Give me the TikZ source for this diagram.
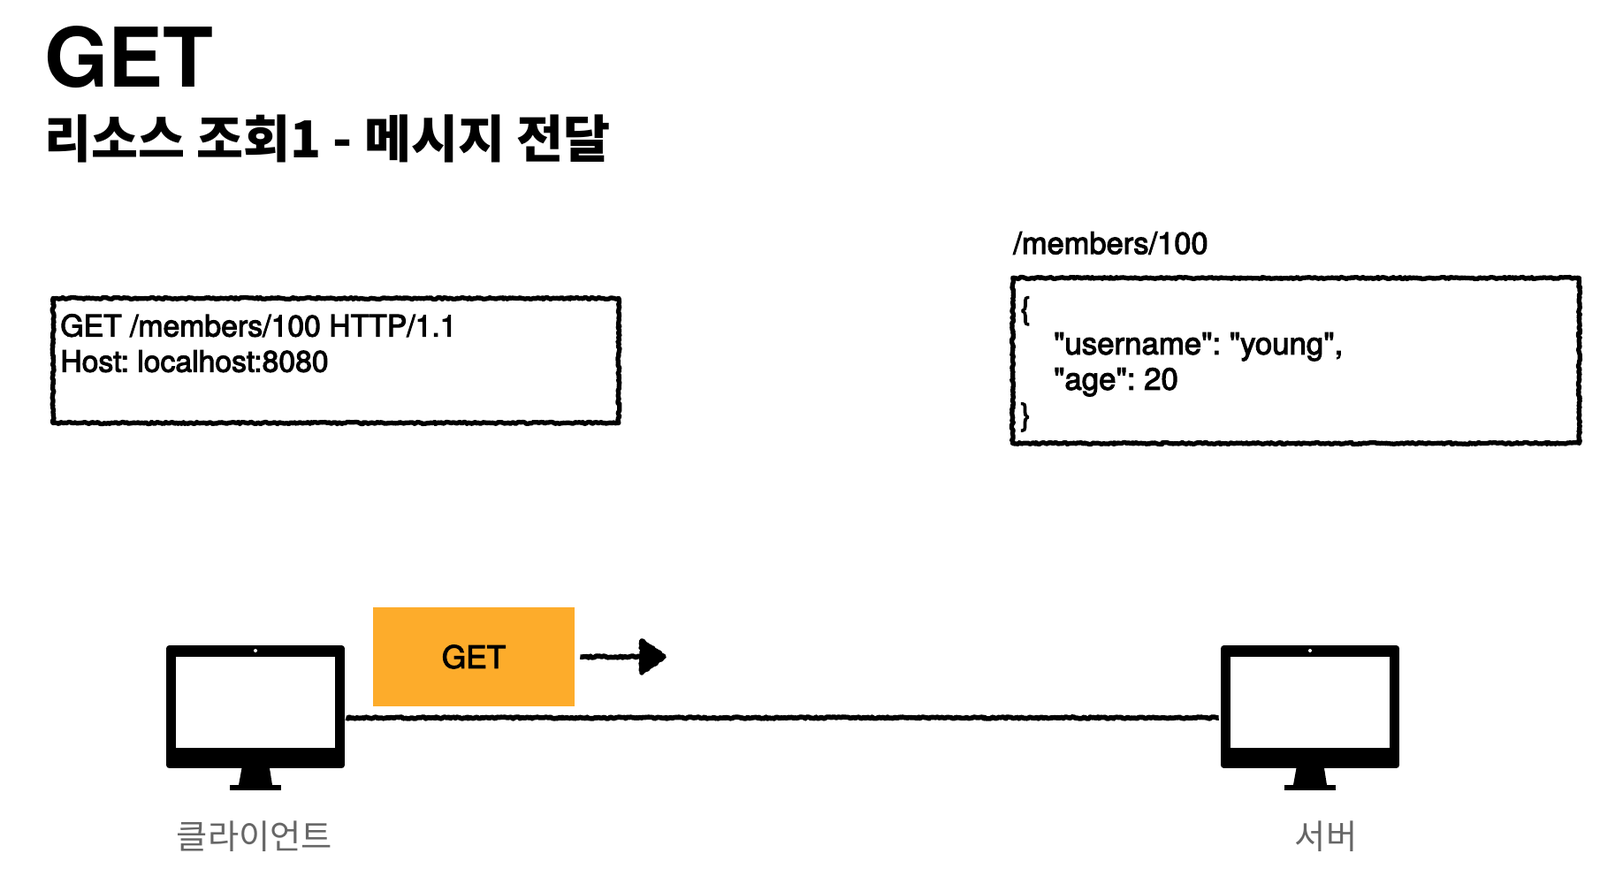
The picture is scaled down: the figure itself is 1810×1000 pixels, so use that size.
\documentclass[tikz,border=0pt]{standalone}
\usepackage{fontspec}
\setmainfont{TeX Gyre Heros}
\newfontfamily\medfont[FakeBold=3]{TeX Gyre Heros}
\newfontfamily\krfont{Noto Sans CJK KR}
\usepackage{tikz}
\usetikzlibrary{
  decorations.pathmorphing % Rough, hand drawn strokes
}
\definecolor{msgorange}{HTML}{FDAC2B}
\definecolor{labelgray}{HTML}{666666}
\frenchspacing
\tikzset{
  roughbox/.style={draw, line width=3pt, line join=round, decorate,
    decoration={random steps, segment length=1.1pt, amplitude=0.6pt}},
  roughline/.style={line width=3.2pt, line join=round, decorate,
    decoration={random steps, segment length=1.1pt, amplitude=0.55pt}},
  msgtext/.style={anchor=north west, inner sep=0pt, align=left,
    font=\medfont\fontsize{19.8}{22.8}\selectfont},
  monlabel/.style={text=labelgray, font=\krfont\fontsize{21.8}{24}\selectfont}
}

\begin{document}
\begin{tikzpicture}[x=0.02cm, y=-0.02cm]

    \useasboundingbox (0, 0) rectangle (1810, 1000);

    % Titles
    \node[anchor=west, inner sep=0pt, font=\bfseries\fontsize{53}{54}\selectfont] (title) at (50, 65) {GET};
    \node[anchor=west, inner sep=0pt, font=\krfont\bfseries\fontsize{32.8}{36}\selectfont] (subtitle) at (50, 157) {리소스 조회1 - 메시지 전달};

    % Request message
    \node[roughbox, minimum width=12.8cm, minimum height=2.82cm, inner sep=0pt] (request) at (380, 408) {};
    \node[msgtext, font=\medfont\fontsize{19.2}{22.8}\selectfont] (requesttext) at (68, 355) {GET /members/100 HTTP/1.1\\Host: localhost:8080};

    % Resource on the server
    \node[anchor=west, inner sep=0pt, font=\medfont\fontsize{19.6}{22}\selectfont] (resource) at (1146, 275) {/members/100};
    \node[roughbox, minimum width=12.82cm, minimum height=3.74cm, inner sep=0pt] (json) at (1466, 408) {};
    \node[msgtext] (jsontext) at (1154, 335) {\{\\\hspace*{21.5pt}"username": "young",\\\hspace*{21.5pt}"age": 20\\\}};

    % Client and server
    \foreach \name/\mx/\lx/\txt in {client/188/288/클라이언트, server/1381/1500/서버} {
        \node[fill=black, rounded corners=2pt, minimum width=4.04cm, minimum height=2.78cm, inner sep=0pt] (\name) at (\mx+101, 799.5) {};
        \fill[white] (\mx+11, 743) rectangle (\mx+191, 846);
        \fill[white] (\mx+101, 736) circle (2);
        \fill (\mx+85.5, 869) -- (\mx+117, 869) -- (\mx+120, 888) -- (\mx+82, 888) -- cycle;
        \fill (\mx+72, 888) rectangle (\mx+130, 894);
        \node[monlabel] (\name label) at (\lx, 946) {\txt};
    }

    % Wire between them
    \draw[roughline] ([xshift=0.02cm, yshift=-0.25cm]client.east) -- ([xshift=-0.04cm, yshift=-0.25cm]server.west);

    % Message and its direction
    \node[fill=msgorange, minimum width=4.56cm, minimum height=2.26cm, inner sep=0pt, font=\medfont\fontsize{20}{22}\selectfont] (message) at (536, 743) {GET};
    \coordinate (headbase) at (726, 743);
    \coordinate (headtip) at (751, 743);
    \draw[roughline] ([xshift=0.12cm]message.east) -- (headbase);
    \filldraw[roughline] (headbase) ++(0, -18) -- (headtip) -- ++(-25, 18) -- cycle;

\end{tikzpicture}
\end{document}
